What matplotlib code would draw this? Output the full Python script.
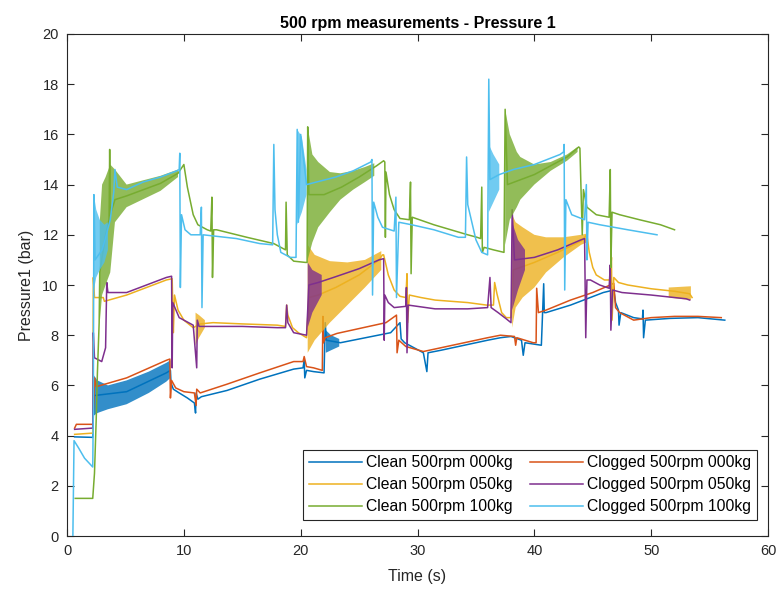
import numpy as np
import matplotlib
matplotlib.use("Agg")
import matplotlib.pyplot as plt

plt.rcParams['font.family'] = ['Liberation Sans', 'DejaVu Sans']

nan = np.nan

# ---- Clean 500rpm 000kg ----
clean000_t = [0.65, 2.2, 2.3, 2.4, 5.1, 8.5, 8.85, 8.9, 9.1, 9.6, 10.3, 10.9, 11.0, 11.05, 11.2, 11.5,
              13.7, 16.5, 19.4, 20.2, 20.3, 20.35, 20.5, 21.1, 22.0, 22.1, 22.2, 23.4, 27.7, 28.5,
              28.6, 28.9, 30.5, 30.8, 30.9, 32.0, 34.0, 36.0, 37.1, 38.0, 38.9, 39.05, 39.2, 40.6,
              40.8, 40.85, 41.0, 43.1, 45.9, 46.8, 46.95, 47.2, 47.25, 47.4, 48.5, 49.25, 49.3,
              49.35, 49.5, 51.6, 54.0, 56.3]
clean000_p = [3.95, 3.93, 5.6, 5.6, 5.75, 6.5, 6.6, 6.1, 5.85, 5.7, 5.5, 5.3, 4.9, 5.7, 5.45, 5.55,
              5.8, 6.25, 6.65, 6.7, 7.0, 6.3, 6.6, 6.55, 6.5, 8.5, 7.8, 7.7, 8.1, 8.5,
              7.85, 7.7, 7.3, 6.55, 7.3, 7.4, 7.6, 7.8, 7.9, 7.95, 7.8, 7.2, 7.7, 7.6,
              10.05, 8.9, 8.9, 9.2, 9.7, 9.8, 9.3, 9.0, 8.4, 8.9, 8.7, 8.65, 9.0,
              7.9, 8.6, 8.67, 8.7, 8.6]
clean000_band_t = [2.3, 2.6, 3.5, 5.1, 7.0, 8.5, 8.85, nan, 22.15, 22.6, 23.3]
clean000_band_lo = [4.8, 4.9, 5.05, 5.25, 5.7, 6.15, 6.3, nan, 7.3, 7.4, 7.55]
clean000_band_hi = [6.4, 6.2, 6.0, 6.2, 6.55, 6.9, 7.0, nan, 8.2, 8.0, 7.85]

# ---- Clogged 500rpm 000kg ----
clogged000_t = [0.65, 0.8, 2.2, 2.3, 2.35, 2.5, 5.1, 8.5, 8.8, 8.85, 8.95, 9.3, 10.0, 10.9, 11.05,
                11.1, 11.4, 13.7, 16.5, 19.4, 20.2, 20.3, 20.5, 21.1, 21.85, 21.9, 21.95, 22.1, 23.1,
                27.3, 28.2, 28.25, 28.4, 29.0, 30.5, 32.0, 34.0, 36.0, 37.1, 38.3, 38.4, 38.5, 39.9,
                40.15, 40.2, 40.35, 41.0, 43.1, 45.0, 46.5, 46.8, 46.95, 47.3, 47.9, 48.5, 50.0,
                52.0, 54.0, 56.0]
clogged000_p = [4.3, 4.45, 4.45, 5.5, 6.3, 5.95, 6.3, 7.0, 7.05, 5.5, 6.2, 5.9, 5.75, 5.7, 5.2,
                5.85, 5.7, 6.05, 6.5, 6.95, 6.95, 7.15, 6.75, 6.7, 6.6, 8.75, 7.7, 7.9, 8.07,
                8.5, 8.8, 7.3, 7.8, 7.55, 7.35, 7.5, 7.7, 7.9, 8.0, 7.95, 7.6, 7.9, 7.7,
                7.7, 9.87, 8.9, 9.0, 9.4, 9.7, 10.0, 10.07, 9.1, 8.9, 8.75, 8.6, 8.7,
                8.75, 8.75, 8.7]

# ---- Clean 500rpm 050kg ----
clean050_t = [0.65, 2.2, 2.25, 2.35, 3.1, 3.2, 5.1, 8.5, 9.0, 9.05, 9.1, 9.2, 9.5, 10.0, 10.8,
              11.4, 12.5, 15.0, 18.0, 18.7, 18.8, 18.9, 19.3, 19.8, 20.5, 20.7, 21.5, 23.0, 25.0,
              26.7, 27.0, 27.1, 27.5, 28.0, 28.5, 29.0, 29.1, 29.15, 29.3, 30.3, 31.5, 34.3, 35.9,
              36.5, 36.6, 36.8, 37.2, 37.6, 38.0, 38.2, 40.0, 42.0, 44.0, 44.5, 44.7, 45.0, 45.3,
              46.0, 46.5, 46.6, 46.65, 46.8, 47.2, 48.0, 50.0, 52.0, 53.3, 53.5]
clean050_p = [4.05, 4.1, 10.3, 9.5, 9.5, 9.35, 9.6, 10.2, 10.25, 9.1, 8.1, 9.6, 9.0, 8.6, 8.3,
              8.45, 8.5, 8.45, 8.4, 8.35, 9.2, 8.8, 8.3, 8.1, 7.9, 9.5, 9.6, 9.9, 10.4,
              11.0, 11.2, 11.2, 10.4, 9.8, 9.55, 9.5, 10.45, 8.5, 9.6, 9.5, 9.4, 9.3, 9.2,
              9.2, 10.1, 9.65, 8.9, 8.7, 8.7, 10.6, 10.9, 11.3, 11.75, 12.0, 11.3, 10.7, 10.4,
              10.2, 10.2, 11.1, 8.6, 10.3, 10.1, 10.0, 9.85, 9.75, 9.65, 9.5]
clean050_band_t = [11.0, 11.3, 11.8, nan, 20.6, 21.2, 22.5, 24.0, 25.5, 26.9, nan,
                   38.1, 38.4, 39.0, 40.0, 41.0, 42.5, 44.0, 44.5, nan, 51.5, 53.4]
clean050_band_lo = [7.6, 7.9, 8.3, nan, 7.3, 7.8, 8.5, 9.2, 9.9, 10.6, nan,
                    8.3, 9.1, 9.5, 9.9, 10.5, 11.1, 11.6, 11.7, nan, 9.5, 9.4]
clean050_band_hi = [8.9, 8.8, 8.6, nan, 11.6, 11.2, 10.95, 10.9, 11.0, 11.35, nan,
                    12.8, 12.5, 12.3, 12.0, 11.9, 11.9, 12.0, 12.05, nan, 9.9, 9.95]

# ---- Clogged 500rpm 050kg ----
clogged050_t = [0.65, 2.2, 2.25, 2.35, 2.97, 3.3, 3.4, 3.5, 5.1, 8.5, 8.95, 9.0, 9.05, 9.6, 10.8,
                11.1, 11.15, 11.3, 15.0, 18.0, 18.7, 18.8, 18.9, 19.4, 20.5, 20.7, 21.5, 22.8, 25.0,
                26.7, 27.1, 27.15, 27.2, 27.5, 28.0, 29.0, 29.05, 29.1, 29.2, 31.5, 34.3, 36.0, 36.2,
                36.3, 36.9, 37.6, 38.0, 38.1, 38.3, 40.0, 42.0, 44.0, 44.3, 44.4, 44.5, 44.8, 45.6,
                46.4, 46.5, 46.55, 46.7, 47.5, 50.0, 53.0, 53.3]
clogged050_p = [4.25, 4.3, 8.1, 7.1, 6.95, 7.5, 10.1, 9.7, 9.7, 10.3, 10.35, 6.7, 9.3, 8.7, 8.4,
                6.7, 8.6, 8.35, 8.35, 8.3, 8.3, 9.2, 8.5, 8.1, 8.0, 10.0, 10.1, 10.3, 10.65,
                11.0, 11.05, 7.8, 9.6, 9.3, 9.1, 9.15, 9.9, 7.3, 9.2, 9.05, 9.05, 9.1, 10.3,
                9.1, 8.9, 8.65, 8.5, 13.0, 11.0, 11.1, 11.4, 11.8, 11.85, 7.9, 10.2, 10.2, 10.0,
                9.87, 10.8, 8.2, 9.8, 9.7, 9.6, 9.45, 9.4]
clogged050_band_t = [20.6, 21.0, 21.8, nan, 38.1, 38.6, 39.2]
clogged050_band_lo = [8.3, 8.9, 9.6, nan, 9.0, 9.8, 10.6]
clogged050_band_hi = [10.9, 10.6, 10.4, nan, 12.5, 11.8, 11.4]

# ---- Clean 500rpm 100kg ----
clean100_t = [0.7, 2.2, 2.35, 2.5, 2.6, 2.75, 2.8, 3.3, 3.6, 3.65, 3.7, 4.1, 5.1, 8.0, 9.5,
              10.0, 10.3, 10.8, 11.2, 12.0, 12.3, 12.4, 12.45, 12.55, 12.8, 15.4, 17.7, 18.5, 18.7,
              18.75, 18.85, 19.4, 20.4, 20.55, 20.6, 20.7, 22.0, 23.5, 25.0, 26.5, 27.1, 27.2, 27.25,
              27.3, 27.6, 28.0, 28.5, 29.3, 29.4, 29.45, 29.55, 31.4, 34.3, 35.1, 35.4, 35.5, 35.55,
              35.7, 36.5, 37.4, 37.5, 37.7, 40.0, 42.8, 43.8, 43.9, 44.1, 44.2, 44.5, 45.3, 46.4,
              46.5, 46.55, 46.65, 47.3, 49.0, 50.8, 52.0]
clean100_p = [1.5, 1.5, 2.5, 4.7, 6.5, 8.5, 10.5, 12.0, 12.6, 15.4, 12.8, 13.4, 13.55, 14.05, 14.45,
              14.8, 13.9, 12.8, 12.4, 12.2, 12.15, 13.5, 10.3, 12.2, 12.2, 11.9, 11.65, 11.45, 11.4,
              13.3, 11.2, 10.95, 10.9, 10.9, 16.3, 13.6, 13.6, 13.9, 14.3, 14.75, 14.95, 14.9, 11.9,
              14.5, 13.6, 13.0, 12.65, 12.6, 14.1, 10.45, 12.7, 12.4, 12.0, 11.9, 11.85, 13.9, 11.3,
              11.5, 11.4, 11.3, 17.0, 14.0, 14.4, 15.1, 15.5, 15.45, 12.0, 13.8, 13.1, 12.8, 12.7,
              14.6, 10.7, 12.9, 12.8, 12.6, 12.4, 12.2]
clean100_band_t = [2.8, 3.0, 3.3, 3.7, 4.1, 5.1, 8.0, 9.5, nan,
                   20.6, 21.0, 21.5, 22.5, 23.4, 24.5, 25.5, 26.3, nan,
                   37.5, 37.9, 38.5, 38.8, 40.0, 41.4, 42.8, 43.7]
clean100_band_lo = [8.5, 9.6, 10.0, 10.5, 12.5, 13.1, 13.75, 14.3, nan,
                    11.0, 11.7, 12.3, 12.9, 13.4, 13.8, 14.1, 14.35, nan,
                    11.6, 12.6, 13.1, 13.4, 14.0, 14.55, 14.95, 15.3]
clean100_band_hi = [12.5, 14.0, 14.3, 14.8, 14.6, 14.0, 14.35, 14.6, nan,
                    16.3, 15.2, 14.9, 14.5, 14.45, 14.55, 14.7, 14.85, nan,
                    17.0, 16.0, 15.3, 15.1, 14.8, 14.9, 15.2, 15.5]

# ---- Clogged 500rpm 100kg ----
clogged100_t = [0.5, 0.6, 1.0, 1.5, 2.2, 2.25, 2.3, 2.4, 3.0, 3.25, 3.7, 4.0, 4.1, 4.3, 5.1,
                6.5, 8.0, 9.4, 9.6, 9.65, 9.7, 9.8, 10.1, 10.6, 11.4, 11.5, 11.55, 11.65, 14.5,
                16.5, 17.6, 17.7, 17.8, 18.0, 18.3, 19.1, 19.6, 19.7, 19.8, 20.0, 20.5, 23.0, 24.5,
                26.0, 26.1, 26.15, 26.25, 26.6, 27.0, 28.0, 28.15, 28.2, 28.4, 29.5, 31.4, 33.5, 34.1,
                34.2, 34.3, 34.6, 35.0, 35.5, 36.0, 36.1, 36.2, 37.0, 38.2, 40.0, 42.2, 42.5, 42.55,
                42.6, 42.7, 43.2, 44.3, 44.45, 44.5, 44.6, 45.6, 48.0, 50.5]
clogged100_p = [0.0, 3.8, 3.5, 3.1, 2.75, 5.0, 13.6, 11.0, 11.4, 11.8, 12.6, 13.7, 14.6, 13.9, 13.8,
                14.1, 14.3, 14.55, 14.6, 15.25, 9.9, 12.8, 12.2, 12.0, 12.0, 13.1, 9.1, 12.0, 11.85,
                11.65, 11.6, 15.6, 13.0, 12.0, 11.3, 11.1, 11.1, 16.2, 12.5, 16.0, 14.0, 14.3, 14.55,
                14.9, 15.0, 9.6, 13.3, 12.7, 12.3, 12.15, 13.5, 9.5, 12.5, 12.4, 12.2, 11.9, 11.9,
                15.1, 13.2, 12.6, 11.8, 11.3, 11.2, 18.2, 14.2, 14.4, 14.6, 14.8, 15.2, 15.3, 15.6,
                9.8, 13.4, 12.8, 12.6, 14.0, 11.0, 12.5, 12.4, 12.2, 12.0]
clogged100_band_t = [2.3, 2.5, 2.8, 3.2, 3.5, nan, 19.7, 20.1, 20.5, nan, 36.1, 36.5, 37.0]
clogged100_band_lo = [9.8, 10.3, 10.6, 10.9, 11.4, nan, 12.4, 12.9, 13.6, nan, 12.9, 13.3, 13.8]
clogged100_band_hi = [13.6, 13.0, 12.6, 12.4, 12.5, nan, 16.2, 15.9, 14.6, nan, 15.6, 15.2, 14.8]

labels = ['Clean 500rpm 000kg', 'Clogged 500rpm 000kg', 'Clean 500rpm 050kg',
          'Clogged 500rpm 050kg', 'Clean 500rpm 100kg', 'Clogged 500rpm 100kg']
colors = ['#0072BD', '#D95319', '#EDB120', '#7E2F8E', '#77AC30', '#4DBEEE']

series = [
    (clean000_t, clean000_p, (clean000_band_t, clean000_band_lo, clean000_band_hi)),
    (clogged000_t, clogged000_p, None),
    (clean050_t, clean050_p, (clean050_band_t, clean050_band_lo, clean050_band_hi)),
    (clogged050_t, clogged050_p, (clogged050_band_t, clogged050_band_lo, clogged050_band_hi)),
    (clean100_t, clean100_p, (clean100_band_t, clean100_band_lo, clean100_band_hi)),
    (clogged100_t, clogged100_p, (clogged100_band_t, clogged100_band_lo, clogged100_band_hi)),
]

fig = plt.figure(figsize=(7.84, 5.94), dpi=100)
ax = fig.add_axes([0.0855, 0.0976, 0.8941, 0.8452])

handles = []
for i, (t, p, band) in enumerate(series):
    z = 2 + i
    if band is not None:
        bt, blo, bhi = (np.array(a, dtype=float) for a in band)
        ax.fill_between(bt, blo, bhi, color=colors[i], lw=0, alpha=0.8, zorder=z)
    ln, = ax.plot(t, p, color=colors[i], lw=1.1, zorder=z, label=labels[i])
    handles.append(ln)

ax.set_xlim(0, 60)
ax.set_ylim(0, 20)
ax.set_xticks(range(0, 61, 10))
ax.set_yticks(range(0, 21, 2))

dark = '#262626'
for s in ax.spines.values():
    s.set_color(dark)
    s.set_linewidth(0.8)
ax.tick_params(direction='in', top=True, right=True, length=5, width=0.8,
               colors=dark, labelsize=10.5, labelcolor=dark, pad=6)

ax.set_title('500 rpm measurements - Pressure 1', fontsize=11.5, fontweight='bold', color='black', pad=4)
ax.set_xlabel('Time (s)', fontsize=11.5, color=dark, labelpad=8)
ax.set_ylabel('Pressure1 (bar)', fontsize=11.5, color=dark, labelpad=6)

order = [0, 2, 4, 1, 3, 5]
leg = ax.legend([handles[k] for k in order], [labels[k] for k in order], ncol=2,
                loc='lower right', bbox_to_anchor=(0.984, 0.032), borderaxespad=0,
                fontsize=11.3, handlelength=3.4, columnspacing=1.1, handletextpad=0.25,
                labelspacing=0.45, borderpad=0.35, fancybox=False, framealpha=1, edgecolor=dark)
leg.get_frame().set_linewidth(0.8)

fig.savefig('out.png', dpi=100)
